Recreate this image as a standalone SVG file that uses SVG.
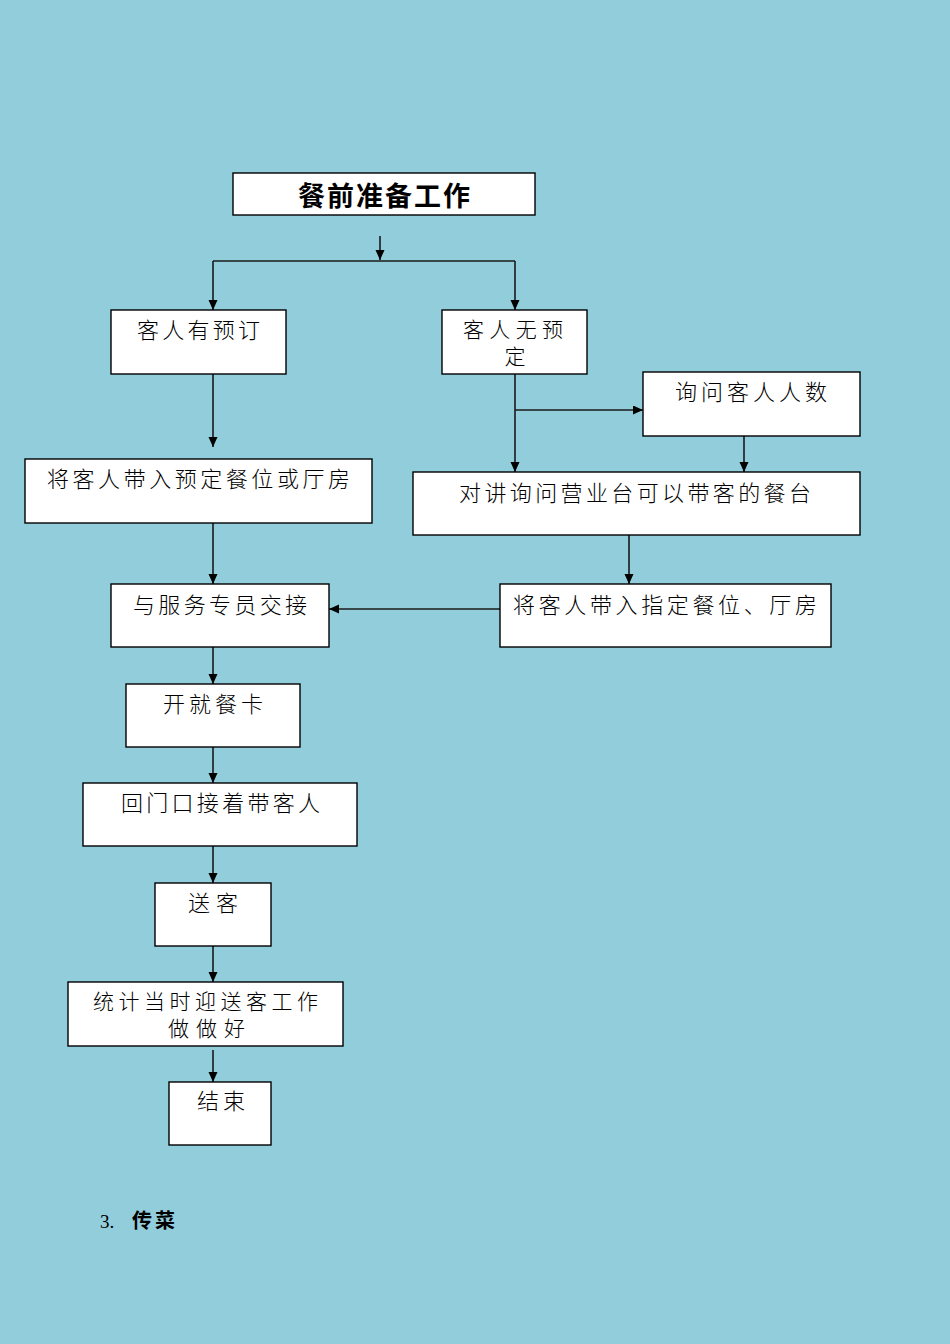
<svg xmlns="http://www.w3.org/2000/svg" width="950" height="1344" viewBox="0 0 950 1344">
<defs>
<marker id="ah" markerUnits="userSpaceOnUse" markerWidth="10" markerHeight="10" refX="10" refY="4.5" orient="auto">
<path d="M0,0 L10,4.5 L0,9 z" fill="#000"/>
</marker>
<style>
.box{fill:#fff;stroke:#000;stroke-width:1.4}
.t{font-family:"Noto Sans CJK SC","Noto Sans CJK JP",sans-serif;font-size:22px;fill:#000;font-weight:300}
.t2{font-family:"Liberation Sans","Noto Sans CJK SC",sans-serif;font-size:21px}
.c{fill:none;stroke:#1a1a1a;stroke-width:1.6}
.a{marker-end:url(#ah)}
</style>
</defs>
<rect x="0" y="0" width="950" height="1344" fill="#92CDDC"/>

<g id="connectors">
<path class="c a" d="M380,236 V260"/>
<path class="c" d="M213,261 H515"/>
<path class="c a" d="M213,261 V310"/>
<path class="c a" d="M515,261 V310"/>
<path class="c a" d="M213,374 V447"/>
<path class="c a" d="M515,374 V472"/>
<path class="c a" d="M515,410 H643"/>
<path class="c a" d="M744,436 V472"/>
<path class="c a" d="M629,535 V584"/>
<path class="c a" d="M213,523 V584"/>
<path class="c a" d="M500,609 H329"/>
<path class="c a" d="M213,647 V684"/>
<path class="c a" d="M213,747 V783"/>
<path class="c a" d="M213,846 V883"/>
<path class="c a" d="M213,946 V982"/>
<path class="c a" d="M213,1050 V1082"/>
</g>

<g id="n-title">
<rect class="box" x="233" y="173" width="302" height="42"/>
<text x="298" y="206" textLength="172" lengthAdjust="spacing" style="font-family:'Noto Sans CJK SC',sans-serif;font-size:27px;font-weight:700">餐前准备工作</text>
</g>
<g id="n-youding">
<rect class="box" x="111" y="310" width="175" height="64"/>
<text class="t" x="137" y="338" textLength="123" lengthAdjust="spacing">客人有预订</text>
</g>
<g id="n-wuyuding">
<rect class="box" x="442" y="310" width="145" height="64"/>
<text class="t t2" x="463" y="337" textLength="100" lengthAdjust="spacing">客人无预</text>
<text class="t t2" x="515" y="364" text-anchor="middle">定</text>
</g>
<g id="n-xunwen">
<rect class="box" x="643" y="372" width="217" height="64"/>
<text class="t" x="675" y="400" textLength="152" lengthAdjust="spacing">询问客人人数</text>
</g>
<g id="n-daiyuding">
<rect class="box" x="25" y="459" width="347" height="64"/>
<text class="t" x="47" y="487" textLength="303" lengthAdjust="spacing">将客人带入预定餐位或厅房</text>
</g>
<g id="n-duijiang">
<rect class="box" x="413" y="472" width="447" height="63"/>
<text class="t" x="459" y="501" textLength="352" lengthAdjust="spacing">对讲询问营业台可以带客的餐台</text>
</g>
<g id="n-jiaojie">
<rect class="box" x="111" y="584" width="218" height="63"/>
<text class="t" x="133" y="613" textLength="174" lengthAdjust="spacing">与服务专员交接</text>
</g>
<g id="n-zhiding">
<rect class="box" x="500" y="584" width="331" height="63"/>
<text class="t" x="513" y="613" textLength="304" lengthAdjust="spacing">将客人带入指定餐位、厅房</text>
</g>
<g id="n-kaika">
<rect class="box" x="126" y="684" width="174" height="63"/>
<text class="t" x="163" y="712" textLength="100" lengthAdjust="spacing">开就餐卡</text>
</g>
<g id="n-huimen">
<rect class="box" x="83" y="783" width="274" height="63"/>
<text class="t" x="121" y="811" textLength="199" lengthAdjust="spacing">回门口接着带客人</text>
</g>
<g id="n-songke">
<rect class="box" x="155" y="883" width="116" height="63"/>
<text class="t" x="188" y="911" textLength="50" lengthAdjust="spacing">送客</text>
</g>
<g id="n-tongji">
<rect class="box" x="68" y="982" width="275" height="64"/>
<text class="t t2" x="93" y="1009" textLength="225" lengthAdjust="spacing">统计当时迎送客工作</text>
<text class="t t2" x="168" y="1036" textLength="77" lengthAdjust="spacing">做做好</text>
</g>
<g id="n-jieshu">
<rect class="box" x="169" y="1082" width="102" height="63"/>
<text class="t" x="197" y="1109" textLength="48" lengthAdjust="spacing">结束</text>
</g>

<g id="caption">
<text x="100" y="1228" style="font-family:'Liberation Serif',serif;font-size:19px">3.</text>
<text x="132" y="1228" textLength="43" lengthAdjust="spacing" style="font-family:'Noto Sans CJK SC',sans-serif;font-size:20px;font-weight:700">传菜</text>
</g>
</svg>
